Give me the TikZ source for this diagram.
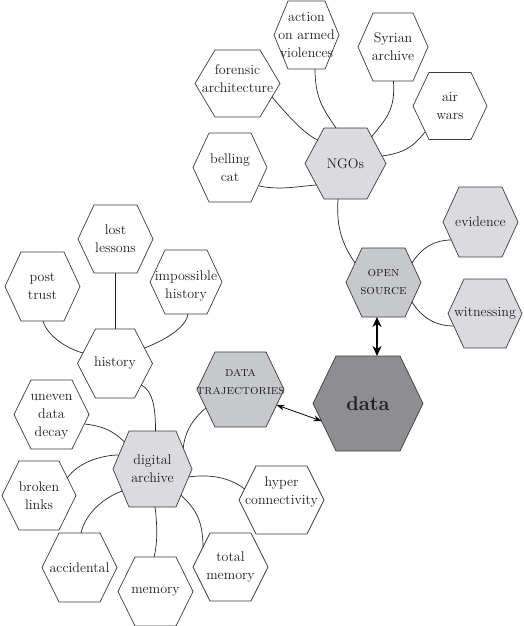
\documentclass[tikz,border=0pt]{standalone}
\usepackage{fontspec}
\usetikzlibrary{calc,arrows.meta}
\definecolor{hexlight}{RGB}{219,219,223}
\definecolor{hexmid}{RGB}{199,200,204}
\definecolor{hexdark}{RGB}{142,142,146}
\definecolor{hexedge}{RGB}{60,60,62}
\definecolor{txt}{RGB}{30,30,32}
% #1 text y-shift, #2 name, #3 x, #4 y, #5 width, #6 height, #7 slant, #8 fill style, #9 text
\newcommand{\hexa}[9][0]{%
  \pgfmathsetmacro\hxa{#3-#5/2}\pgfmathsetmacro\hxb{#3-#5/2+#7}%
  \pgfmathsetmacro\hxc{#3+#5/2-#7}\pgfmathsetmacro\hxd{#3+#5/2}%
  \pgfmathsetmacro\hyt{#4-#6/2}\pgfmathsetmacro\hyb{#4+#6/2}%
  \pgfmathsetmacro\hyc{#4+#1}%
  \draw[hexline,#8] (\hxa,#4) -- (\hxb,\hyt) -- (\hxc,\hyt) -- (\hxd,#4) -- (\hxc,\hyb) -- (\hxb,\hyb) -- cycle;
  \coordinate (#2) at (#3,#4);
  \node[hextext] (#2-t) at (#3,\hyc) {#9};
}
\newcommand{\scf}{\fontsize{13.5}{19}\selectfont\scshape}
\begin{document}
\begin{tikzpicture}[x=1pt,y=-1pt,
  hexline/.style={draw=hexedge,line width=0.7pt,fill=white,line join=miter},
  hextext/.style={align=center,inner sep=0pt,text=txt,font=\fontsize{14}{18}\selectfont},
  link/.style={draw=black!85,line width=0.7pt},
  bigarrow/.style={draw=black,line width=2.2pt,{Stealth[length=10pt,width=9pt]}-{Stealth[length=10pt,width=9pt]}},
  smallarrow/.style={draw=black,line width=0.8pt,{Stealth[length=8pt,width=6pt]}-{Stealth[length=8pt,width=6pt]}}]
\useasboundingbox (0,0) rectangle (524,626);

\hexa[-5]{forensic}{237.5}{83.5}{85}{67}{20}{}{forensic\\architecture}
\hexa{action}{306.5}{35}{65}{68}{14}{}{action\\on armed\\violences}
\hexa{syrian}{393}{47}{70}{68}{15}{}{Syrian\\archive}
\hexa{airwars}{450}{106}{74}{67}{16}{}{air\\wars}
\hexa{belling}{230}{167.5}{74}{69}{16}{}{belling\\cat}
\hexa{ngos}{345.5}{163.5}{81}{71}{19}{fill=hexlight}{NGOs}
\hexa{evidence}{480.5}{222}{75}{70}{16}{fill=hexlight}{evidence}
\hexa{open}{383.5}{282.5}{75}{69}{16}{fill=hexmid}{{\scf open}\\{\scf source}}
\hexa{witness}{485}{313.5}{74}{69}{16}{fill=hexlight}{witnessing}
\hexa{data}{368}{403.5}{110}{95}{23}{fill=hexdark}{\fontsize{20}{22}\selectfont\bfseries data}
\hexa[-7]{traj}{240.5}{389.5}{87}{75}{18}{fill=hexmid}{{\scf data}\\{\scf trajectories}}
\hexa{lost}{115.5}{239}{75}{68}{16}{}{lost\\lessons}
\hexa{post}{42.5}{286.5}{75}{69}{16}{}{post\\trust}
\hexa[4]{impossible}{186}{282}{72}{64}{15}{}{impossible\\history}
\hexa{history}{115}{363.5}{75}{69}{18}{}{history}
\hexa[2]{uneven}{51.5}{414.5}{75}{69}{17}{}{uneven\\data\\decay}
\hexa{archive}{152.5}{469}{79}{76}{16}{fill=hexlight}{digital\\archive}
\hexa{broken}{39}{495.5}{74}{69}{17}{}{broken\\links}
\hexa[-8]{hyper}{281.5}{500}{85}{68}{17}{}{hyper\\connectivity}
\hexa{accidental}{79.5}{567.5}{75}{69}{17}{}{accidental}
\hexa{memory}{155.5}{591.5}{75}{69}{17}{}{memory}
\hexa{total}{230.5}{567}{75}{68}{17}{}{total\\memory}

% NGOs cluster
\draw[link] ($(forensic)+(34.5,13.5)$) .. controls +(14,16) and +(-16,-8) .. ($(ngos)+(-28,-23.5)$);
\draw[link] ($(action)+(8.5,34)$) .. controls +(0,30) and +(-12,-18) .. ($(ngos)+(-9.5,-35.5)$);
\draw[link] ($(syrian)+(0.5,34)$) .. controls +(2,30) and +(14,-18) .. ($(ngos)+(26,-26.5)$);
\draw[link] ($(airwars)+(-25,26)$) .. controls +(-12,15) and +(22,-3) .. ($(ngos)+(36.5,-7.5)$);
\draw[link] ($(belling)+(29,18.5)$) .. controls +(20,4) and +(-22,2) .. ($(ngos)+(-29.5,21.5)$);
\draw[link] ($(ngos)+(-7.5,35.5)$) .. controls +(-2,30) and +(-12,-18) .. ($(open)+(-28.5,-19.5)$);
% open source cluster
\draw[link] ($(open)+(28.5,-19.5)$) .. controls +(10,-16) and +(-16,0) .. ($(evidence)+(-29.3,18)$);
\draw[link] ($(open)+(28.5,19.5)$) .. controls +(10,16) and +(-18,0) .. ($(witness)+(-31.2,12.5)$);
\draw[bigarrow] ($(open)+(-6.5,34.5)$) -- ($(data)+(9,-47.5)$);
\draw[smallarrow] ($(traj)+(36.1,15.5)$) -- ($(data)+(-46.5,17.5)$);
% history cluster
\draw[link] ($(lost)+(-0.5,34)$) -- ($(history)+(0,-34.5)$);
\draw[link] ($(post)+(0.5,34.5)$) .. controls +(4,14) and +(-18,-5) .. ($(history)+(-32,-10.5)$);
\draw[link] ($(impossible)+(2,32)$) .. controls +(-2,15) and +(16,-6) .. ($(history)+(29.4,-15.5)$);
\draw[link] ($(history)+(26.3,21.5)$) .. controls +(12,6) and +(0,-22) .. ($(archive)+(3,-38)$);
% digital archive cluster
\draw[link] ($(uneven)+(32.8,9.5)$) .. controls +(20,2) and +(-10,-10) .. ($(archive)+(-28.1,-27)$);
\draw[link] ($(broken)+(28.4,-17.5)$) .. controls +(10,-15) and +(-18,0) .. ($(archive)+(-33.6,-14)$);
\draw[link] ($(accidental)+(1.5,-34.5)$) .. controls +(5,-22) and +(-15,5) .. ($(archive)+(-30.2,22)$);
\draw[link] ($(memory)+(-1.5,-34.5)$) .. controls +(4,-15) and +(2,15) .. ($(archive)+(2.5,38)$);
\draw[link] ($(total)+(-27.5,-20)$) .. controls +(0,-30) and +(12,12) .. ($(archive)+(28.5,26)$);
\draw[link] ($(hyper)+(-37,-11)$) .. controls +(-15,-12) and +(20,-3) .. ($(archive)+(36.1,8)$);
\draw[link] ($(archive)+(30.7,-21)$) .. controls +(2,-18) and +(-12,10) .. ($(traj)+(-34.6,18.5)$);
\end{tikzpicture}
\end{document}
